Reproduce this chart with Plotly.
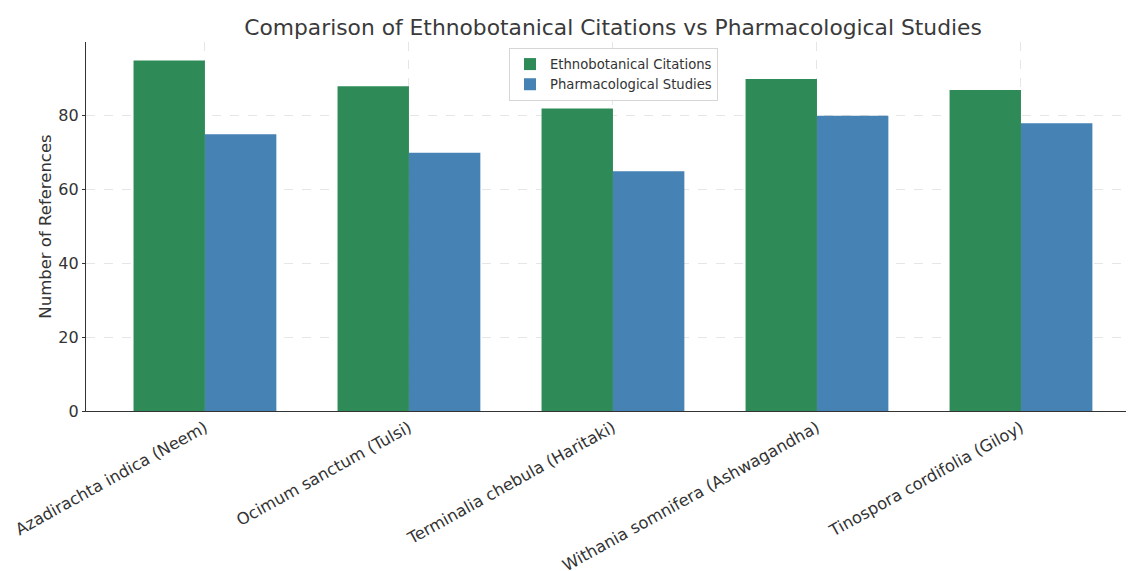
import plotly.graph_objects as go

categories = ["Azadirachta indica (Neem)", "Ocimum sanctum (Tulsi)", "Terminalia chebula (Haritaki)",
              "Withania somnifera (Ashwagandha)", "Tinospora cordifolia (Giloy)"]
ethno = [95, 88, 82, 90, 87]
pharma = [75, 70, 65, 80, 78]
y_ticks = [0, 20, 40, 60, 80]

fig = go.Figure()
fig.add_trace(go.Bar(x=categories, y=ethno, name="Ethnobotanical Citations",
                     marker=dict(color="#2E8B57", line=dict(width=0))))
fig.add_trace(go.Bar(x=categories, y=pharma, name="Pharmacological Studies",
                     marker=dict(color="#4682B4", line=dict(width=0))))

# page body has an 8px margin; the figure is sized/offset to compensate
W, H = 1126, 563
L, T, B = 78, 34, 160
font_family = "DejaVu Sans, sans-serif"
fig.update_layout(
    width=W, height=H,
    margin=dict(l=L, r=0, t=T, b=B, autoexpand=False),
    paper_bgcolor="white", plot_bgcolor="white",
    barmode="group", bargap=0.3, bargroupgap=0,
    font=dict(family=font_family, color="#333333", size=16),
    title=dict(text="Comparison of Ethnobotanical Citations vs Pharmacological Studies",
               x=605 / W, xanchor="center", y=1 - 19 / H, yanchor="middle",
               font=dict(size=21.8, color="#3a3a3a")),
    legend=dict(x=(605.5 - L) / (W - L), xanchor="center", y=(H - B - 40) / (H - B - T), yanchor="top",
                bgcolor="rgba(255,255,255,0.85)", bordercolor="#d6d6d6", borderwidth=1,
                font=dict(size=13.2, color="#333333"), tracegroupgap=0),
    xaxis=dict(range=[-0.583, 4.554], tickangle=-29, showline=True, linecolor="#333333",
               linewidth=1.2, showgrid=True, gridcolor="#e6e6e6", griddash="dash", gridwidth=1,
               ticks="", tickfont=dict(size=16.3, color="#333333"), zeroline=False,
               automargin=False),
    yaxis=dict(range=[0, 100], tickvals=y_ticks, showline=True, linecolor="#333333", linewidth=1.2,
               showgrid=True, gridcolor="#e6e6e6", griddash="dash", gridwidth=1, zeroline=False,
               ticks="outside", ticklen=3, tickcolor="#333333", automargin=False,
               tickfont=dict(size=16, color="#333333"),
               title=dict(text="Number of References", font=dict(size=16.5, color="#333333"), standoff=2)),
)

fig.write_html("out.html")
